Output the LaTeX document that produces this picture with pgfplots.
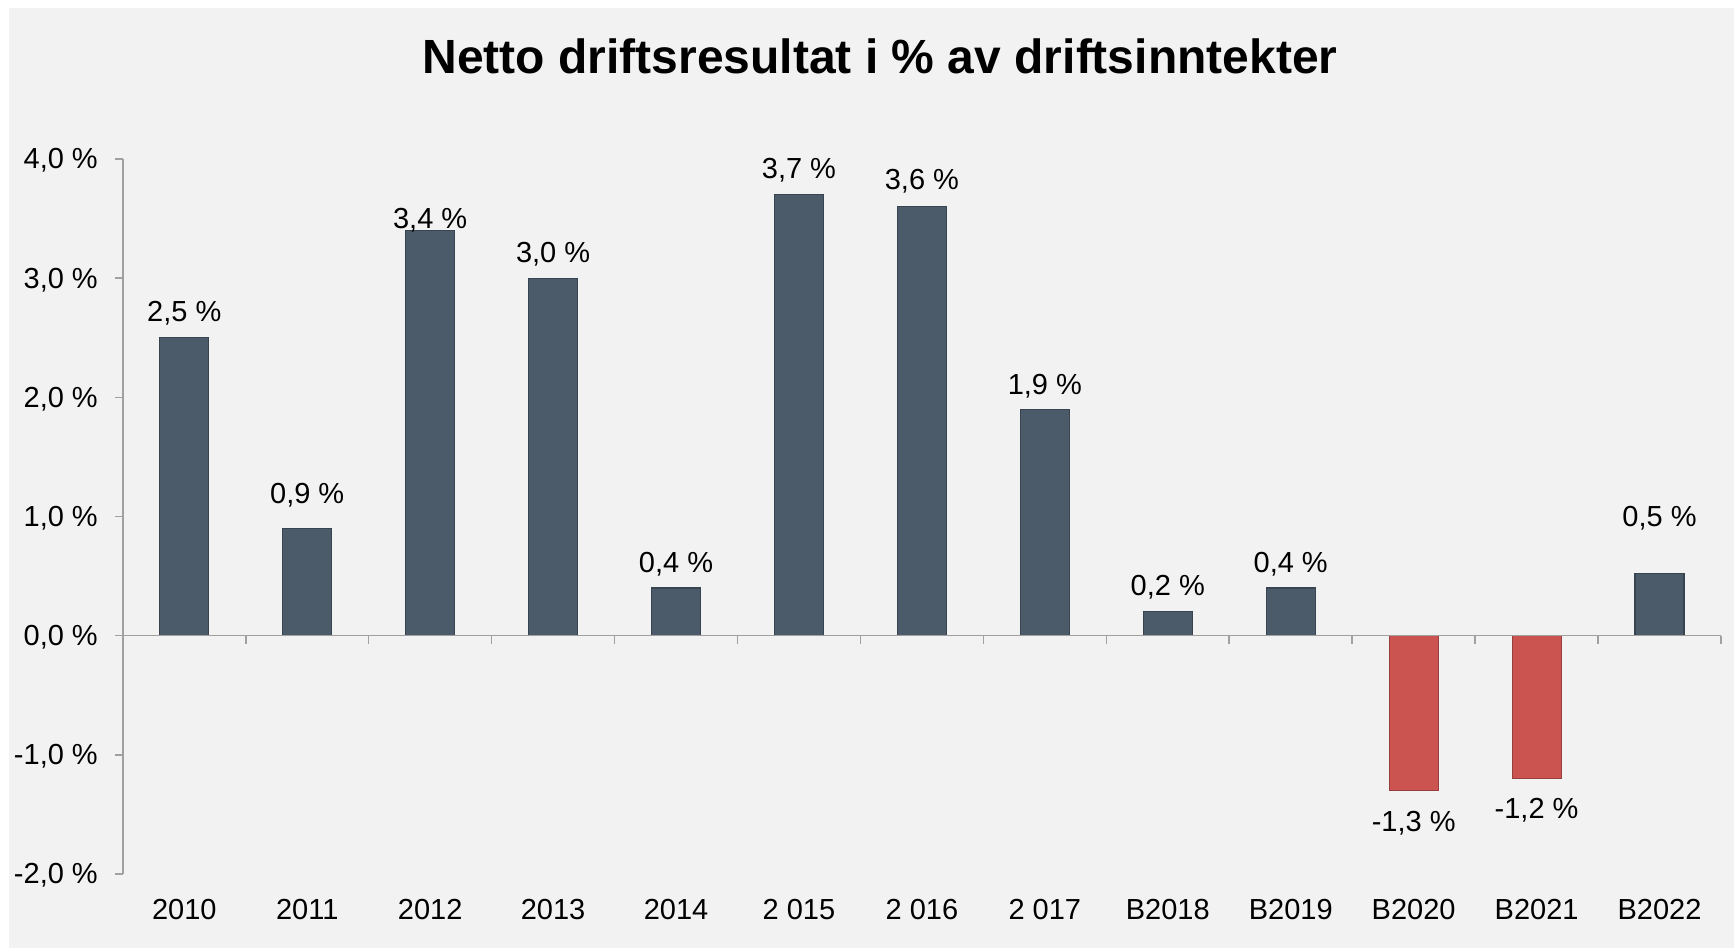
\documentclass[border=0pt]{standalone}
\usepackage{pgfplots}
\pgfplotsset{compat=1.18}
\usepackage{fontspec}
\setmainfont{Liberation Sans}
\definecolor{bgpanel}{HTML}{F2F2F2}
\definecolor{barblue}{HTML}{4B5B69}
\definecolor{barred}{HTML}{CB5350}
\definecolor{axisgray}{HTML}{A0A0A0}
\begin{document}
\begin{tikzpicture}[x=1pt,y=1pt]
\fill[white] (0,0) rectangle (867,476);
\fill[bgpanel] (4.5,2) rectangle (867,472);
\node[font=\fontsize{24}{28}\selectfont\bfseries] at (440,448) {Netto driftsresultat i \% av driftsinntekter};
\begin{axis}[
  at={(61.4pt,39pt)}, anchor=south west,
  scale only axis, width=799.1pt, height=357.5pt,
  xmin=-0.5, xmax=12.5, ymin=-2, ymax=4,
  axis x line*=bottom, axis y line*=left,
  x axis line style={draw=none},
  y axis line style={draw=axisgray, line width=0.8pt, -},
  xtick={0,...,12},
  xticklabels={2010,2011,2012,2013,2014,2 015,2 016,2 017,B2018,B2019,B2020,B2021,B2022},
  xtick style={draw=none},
  xticklabel style={inner sep=0pt, anchor=north, yshift=-8.2pt},
  ytick={-2,-1,0,1,2,3,4},
  yticklabels={{-2,0 \%},{-1,0 \%},{0,0 \%},{1,0 \%},{2,0 \%},{3,0 \%},{4,0 \%}},
  ytick style={draw=axisgray, line width=0.8pt},
  tick align=outside, major tick length=4pt,
  yticklabel style={inner sep=0pt, anchor=east, xshift=-8.3pt, yshift=-0.8pt},
  ticklabel style={font=\fontsize{14.5}{17}\selectfont},
  clip=false,
]
\addplot[ybar, bar width=24.5pt, bar shift=0pt, fill=barblue, draw=barblue!75!black, line width=0.6pt]
  coordinates {(0,2.5) (1,0.9) (2,3.4) (3,3.0) (4,0.4) (5,3.7) (6,3.6) (7,1.9) (8,0.2) (9,0.4) (12,0.52)};
\addplot[ybar, bar width=24.5pt, bar shift=0pt, fill=barred, draw=barred!75!black, line width=0.6pt]
  coordinates {(10,-1.3) (11,-1.2)};
\draw[axisgray, line width=0.8pt] (axis cs:-0.5,0) -- (axis cs:12.5,0);
\pgfplotsinvokeforeach{-0.5,0.5,1.5,2.5,3.5,4.5,5.5,6.5,7.5,8.5,9.5,10.5,11.5,12.5}{
  \draw[axisgray, line width=0.8pt] (axis cs:#1,0) -- ([yshift=-4pt]axis cs:#1,0);
}
\addplot[only marks, mark=*, mark size=0pt, mark options={draw=none,fill=none},
  point meta=explicit symbolic,
  nodes near coords,
  nodes near coords style={anchor=center, inner sep=0pt, yshift=-1.2pt, font=\fontsize{14.5}{17}\selectfont, text=black}]
  coordinates {
  (0,2.73) [{2,5 \%}]
  (1,1.197) [{0,9 \%}]
  (2,3.508) [{3,4 \%}]
  (3,3.22) [{3,0 \%}]
  (4,0.622) [{0,4 \%}]
  (5,3.926) [{3,7 \%}]
  (6,3.833) [{3,6 \%}]
  (7,2.116) [{1,9 \%}]
  (8,0.427) [{0,2 \%}]
  (9,0.622) [{0,4 \%}]
  (10,-1.55) [{-1,3 \%}]
  (11,-1.448) [{-1,2 \%}]
  (12,1.005) [{0,5 \%}]
  };
\end{axis}
\end{tikzpicture}
\end{document}
